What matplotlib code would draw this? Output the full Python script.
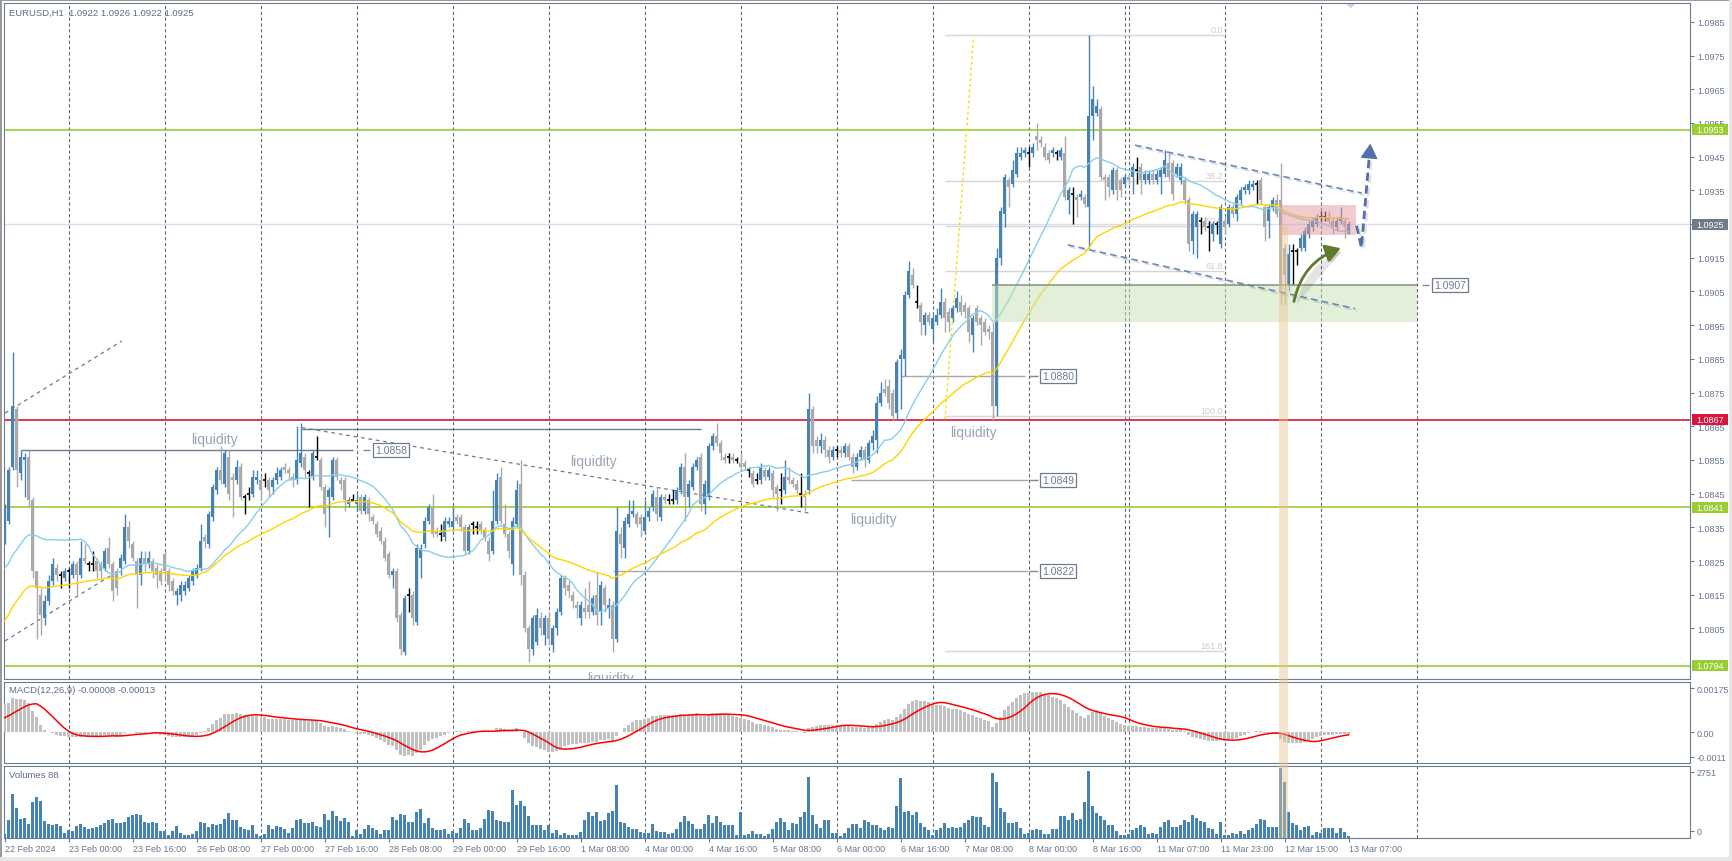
import numpy as np
import matplotlib
matplotlib.use("Agg")
import matplotlib.pyplot as plt
from matplotlib.patches import Rectangle, FancyArrowPatch, Polygon
import matplotlib.patheffects as pe

plt.rcParams['font.family'] = ['Liberation Sans', 'DejaVu Sans']

W, H = 1733, 862

# ---------------- data: EURUSD H1, prices in pips above 1.0800 ----------------
BASE_PRICE = 1.0800
PIP = 0.0001

open_pips = [
    32, 37, 53, 70, 51, 55, 56, 43, 22, 15,
    8, 13, 19, 23, 21, 20, 22, 21, 24, 21,
    26, 24, 24, 25, 24, 23, 29, 24, 22, 23,
    25, 35, 30, 25, 21, 26, 24, 25, 23, 22,
    27, 22, 19, 15, 15, 16, 17, 19, 21, 23,
    32, 30, 38, 46, 52, 48, 56, 50, 49, 53,
    44, 45, 45, 49, 49, 49, 49, 47, 49, 50,
    53, 52, 50, 49, 54, 56, 51, 50, 56, 55,
    47, 44, 44, 55, 49, 49, 42, 43, 42, 44,
    40, 43, 38, 36, 34, 31, 27, 21, 22, 9,
    -2, 15, 15, 7, 26, 30, 37, 41, 34, 33,
    32, 36, 35, 38, 38, 35, 28, 36, 35, 36,
    34, 31, 28, 37, 50, 36, 33, 24, 36, 48,
    21, 5, -1, 1, 8, 3, 8, 0, 5, 10,
    20, 18, 15, 12, 8, 11, 12, 10, 15, 10,
    17, 11, 12, 2, 33, 29, 36, 39, 39, 38,
    34, 38, 41, 44, 38, 44, 43, 43, 43, 46,
    53, 44, 47, 53, 56, 42, 44, 59, 62, 60,
    56, 56, 56, 55, 54, 54, 52, 51, 49, 49,
    52, 50, 51, 47, 46, 46, 50, 49, 48, 45,
    45, 46, 70, 61, 59, 61, 58, 56, 58, 58,
    57, 59, 56, 53, 56, 58, 55, 60, 61, 72,
    76, 77, 75, 69, 85, 85, 104, 110, 102, 101,
    95, 98, 94, 96, 98, 102, 99, 97, 100, 102,
    101, 100, 92, 100, 97, 96, 94, 93, 71, 115,
    128, 138, 137, 140, 145, 146, 146, 146, 151, 150,
    148, 146, 146, 146, 145, 146, 132, 134, 133, 133,
    133, 130, 157, 158, 159, 139, 139, 135, 141, 138,
    137, 139, 139, 141, 142, 138, 138, 140, 138, 139,
    140, 143, 143, 140, 138, 138, 132, 120, 124, 126,
    126, 124, 122, 125, 119, 126, 125, 130, 128, 132,
    135, 135, 136, 137, 138, 130, 126, 130, 132, 132,
    118, 107, 117, 117, 118, 118, 122, 124, 125, 127,
    127, 127, 126, 124, 126, 126, 122,
]

high_pips = [
    42, 53, 87, 71, 58, 57, 58, 44, 22, 17,
    15, 21, 26, 24, 22, 23, 23, 25, 25, 31,
    30, 25, 28, 26, 25, 29, 32, 25, 23, 27,
    39, 37, 31, 26, 28, 28, 28, 26, 24, 23,
    28, 23, 20, 17, 19, 19, 21, 23, 24, 36,
    33, 40, 48, 53, 59, 58, 58, 51, 55, 54,
    45, 47, 52, 52, 50, 51, 50, 50, 53, 53,
    54, 53, 51, 65, 66, 57, 52, 58, 62, 56,
    48, 47, 56, 56, 50, 50, 44, 45, 45, 45,
    45, 44, 39, 37, 35, 32, 28, 23, 23, 10,
    15, 17, 16, 30, 30, 38, 42, 45, 35, 36,
    38, 38, 41, 39, 39, 36, 36, 37, 37, 37,
    35, 32, 46, 51, 53, 42, 34, 38, 49, 55,
    22, 6, 9, 11, 10, 9, 10, 6, 11, 21,
    21, 19, 16, 13, 13, 17, 19, 15, 22, 19,
    18, 14, 13, 41, 35, 38, 43, 43, 40, 39,
    43, 41, 46, 47, 45, 45, 45, 46, 47, 54,
    57, 49, 54, 56, 57, 49, 60, 63, 66, 61,
    57, 57, 57, 56, 57, 55, 53, 52, 51, 54,
    53, 53, 52, 48, 51, 55, 53, 50, 49, 51,
    46, 75, 71, 62, 63, 62, 59, 59, 59, 59,
    60, 60, 57, 57, 59, 59, 61, 64, 74, 78,
    79, 79, 76, 85, 88, 105, 114, 112, 107, 102,
    99, 99, 98, 100, 106, 103, 100, 101, 105, 104,
    102, 101, 98, 101, 98, 97, 95, 96, 118, 130,
    140, 139, 144, 148, 148, 148, 148, 149, 155, 151,
    149, 147, 148, 147, 148, 151, 136, 136, 134, 135,
    134, 181, 166, 162, 160, 140, 140, 142, 142, 139,
    140, 140, 143, 145, 143, 141, 141, 141, 141, 142,
    147, 146, 144, 143, 143, 139, 133, 129, 129, 127,
    127, 126, 126, 126, 131, 127, 131, 131, 134, 136,
    137, 138, 138, 138, 139, 131, 131, 133, 134, 143,
    119, 119, 119, 118, 122, 124, 126, 127, 128, 129,
    129, 129, 127, 127, 130, 127, 126,
]

low_pips = [
    30, 36, 52, 47, 49, 44, 41, 20, 2, 3,
    6, 12, 18, 19, 17, 19, 17, 20, 15, 20,
    24, 22, 22, 20, 20, 22, 23, 13, 15, 21,
    24, 29, 25, 11, 18, 22, 23, 20, 17, 18,
    19, 16, 15, 12, 13, 15, 16, 18, 20, 22,
    29, 29, 37, 45, 48, 47, 43, 38, 48, 43,
    39, 43, 44, 48, 43, 47, 44, 45, 48, 49,
    51, 49, 47, 48, 53, 50, 41, 49, 55, 46,
    35, 32, 43, 49, 46, 40, 41, 43, 40, 39,
    39, 37, 36, 32, 30, 25, 20, 17, 7, -3,
    -3, 10, 6, 6, 20, 29, 36, 32, 32, 31,
    31, 35, 34, 36, 34, 27, 27, 33, 33, 33,
    31, 25, 27, 36, 36, 32, 26, 21, 35, 18,
    4, -5, -3, 0, 3, 0, 0, -2, 3, 9,
    15, 14, 11, 8, 6, 8, 8, 9, 6, 6,
    10, 8, -2, 1, 26, 26, 35, 38, 35, 32,
    33, 37, 40, 37, 37, 42, 42, 42, 42, 45,
    37, 41, 46, 52, 40, 39, 43, 58, 59, 55,
    54, 54, 54, 54, 52, 52, 50, 47, 48, 48,
    49, 49, 44, 40, 42, 45, 48, 47, 45, 41,
    40, 45, 57, 57, 57, 56, 54, 55, 56, 56,
    56, 55, 51, 52, 55, 53, 54, 58, 57, 71,
    74, 70, 67, 67, 70, 80, 103, 106, 100, 92,
    92, 95, 90, 95, 97, 93, 93, 96, 99, 98,
    97, 90, 87, 95, 89, 92, 91, 67, 68, 113,
    124, 130, 136, 139, 144, 145, 142, 145, 147, 148,
    144, 143, 145, 144, 144, 132, 128, 125, 127, 132,
    130, 118, 150, 157, 138, 132, 133, 134, 132, 133,
    136, 137, 134, 137, 134, 137, 137, 137, 137, 134,
    139, 138, 132, 139, 137, 131, 117, 116, 115, 122,
    123, 117, 120, 122, 118, 122, 124, 127, 126, 131,
    134, 134, 135, 131, 131, 120, 121, 129, 127, 101,
    101, 105, 107, 113, 117, 117, 121, 123, 124, 126,
    126, 125, 122, 123, 125, 121, 122,
]

close_pips = [
    39, 52, 71, 52, 56, 56, 43, 22, 17, 9,
    13, 19, 24, 21, 21, 22, 22, 24, 21, 26,
    25, 24, 24, 22, 22, 28, 24, 16, 17, 26,
    35, 31, 26, 21, 26, 24, 26, 22, 21, 19,
    22, 18, 16, 16, 18, 18, 20, 22, 23, 31,
    31, 39, 47, 52, 49, 57, 45, 49, 53, 44,
    44, 45, 50, 50, 46, 49, 46, 49, 51, 52,
    52, 51, 49, 55, 57, 52, 51, 57, 56, 47,
    39, 46, 55, 50, 48, 43, 43, 43, 43, 40,
    44, 39, 37, 33, 31, 26, 21, 22, 8, -1,
    14, 15, 8, 29, 29, 37, 41, 33, 33, 33,
    37, 37, 37, 37, 35, 28, 35, 36, 35, 34,
    32, 27, 37, 49, 37, 33, 28, 37, 46, 21,
    5, -1, 8, 9, 5, 8, 2, 5, 10, 20,
    17, 16, 13, 11, 12, 10, 10, 14, 9, 18,
    12, 12, 2, 34, 30, 37, 39, 40, 36, 36,
    38, 40, 45, 39, 44, 43, 43, 43, 46, 53,
    44, 48, 53, 55, 42, 48, 59, 62, 60, 57,
    55, 56, 55, 55, 53, 53, 52, 48, 49, 53,
    50, 52, 46, 45, 46, 50, 49, 48, 46, 45,
    44, 70, 59, 59, 61, 58, 56, 58, 58, 57,
    59, 56, 53, 56, 58, 55, 60, 62, 72, 75,
    75, 72, 68, 84, 86, 104, 111, 107, 102, 96,
    98, 96, 97, 98, 102, 97, 96, 100, 103, 99,
    99, 93, 97, 96, 95, 93, 93, 71, 115, 129,
    139, 136, 141, 146, 146, 147, 146, 148, 150, 149,
    145, 144, 147, 146, 147, 133, 135, 134, 132, 134,
    131, 157, 162, 160, 139, 138, 136, 141, 135, 135,
    139, 138, 142, 141, 138, 140, 140, 138, 140, 141,
    144, 139, 134, 142, 142, 132, 119, 128, 128, 126,
    124, 124, 125, 125, 130, 124, 130, 128, 133, 135,
    136, 137, 137, 137, 132, 124, 130, 132, 128, 105,
    110, 116, 117, 117, 121, 123, 125, 126, 127, 127,
    127, 126, 124, 126, 127, 124, 125,
]

volumes = [
    170, 705, 1742, 1197, 745, 798, 545, 1397, 1596, 1463,
    665, 545, 505, 545, 466, 200, 306, 266, 466, 532,
    439, 372, 386, 439, 505, 599, 705, 745, 599, 599,
    625, 838, 891, 931, 904, 612, 572, 612, 572, 266,
    266, 133, 266, 466, 200, 133, 133, 173, 266, 625,
    572, 439, 532, 505, 532, 745, 971, 705, 705, 439,
    346, 306, 505, 173, 80, 173, 505, 372, 466, 439,
    346, 200, 399, 705, 745, 572, 572, 638, 466, 439,
    944, 705, 1077, 878, 678, 771, 625, 80, 306, 173,
    346, 505, 412, 306, 173, 306, 306, 838, 705, 944,
    904, 638, 625, 1024, 1144, 572, 771, 412, 333, 306,
    372, 146, 266, 200, 412, 745, 572, 306, 306, 412,
    745, 1104, 1064, 705, 665, 638, 638, 1902, 1303, 1436,
    1264, 878, 505, 505, 505, 306, 505, 200, 306, 133,
    200, 133, 106, 106, 239, 705, 1011, 864, 1037, 665,
    716, 986, 1080, 2100, 648, 608, 446, 351, 351, 243,
    216, 216, 554, 270, 243, 243, 176, 216, 351, 635,
    878, 675, 540, 338, 338, 540, 918, 581, 851, 621,
    513, 500, 513, 108, 1040, 122, 176, 284, 149, 149,
    68, 176, 351, 648, 783, 648, 311, 581, 540, 824,
    1026, 2400, 918, 554, 392, 689, 716, 203, 203, 68,
    203, 392, 540, 540, 378, 689, 621, 500, 500, 405,
    311, 419, 378, 1256, 2350, 1026, 1053, 918, 1026, 581,
    446, 300, 135, 311, 392, 608, 378, 446, 378, 446,
    581, 716, 878, 824, 824, 513, 446, 2550, 2200, 1188,
    1026, 608, 608, 648, 378, 149, 203, 311, 338, 311,
    176, 176, 351, 351, 878, 851, 689, 986, 716, 756,
    1418, 2650, 1256, 986, 878, 689, 513, 513, 284, 135,
    135, 150, 311, 405, 513, 446, 149, 203, 149, 419,
    621, 689, 446, 446, 513, 689, 621, 918, 783, 675,
    648, 378, 338, 149, 648, 135, 135, 203, 176, 270,
    176, 311, 378, 554, 756, 689, 446, 446, 446, 2751,
    2200, 1013, 608, 513, 311, 446, 486, 108, 243, 203,
    405, 400, 405, 203, 405, 230, 88,
]

time_labels = ["22 Feb 2024", "23 Feb 00:00", "23 Feb 16:00", "26 Feb 08:00",
               "27 Feb 00:00", "27 Feb 16:00", "28 Feb 08:00", "29 Feb 00:00",
               "29 Feb 16:00", "1 Mar 08:00", "4 Mar 00:00", "4 Mar 16:00",
               "5 Mar 08:00", "6 Mar 00:00", "6 Mar 16:00", "7 Mar 08:00",
               "8 Mar 00:00", "8 Mar 16:00", "11 Mar 07:00", "11 Mar 23:00",
               "12 Mar 15:00", "13 Mar 07:00"]
LABEL_EVERY = 16
day_separators = [16, 40, 64, 88, 112, 136, 160, 184, 208, 232, 256, 280, 281, 305, 329, 353]
price_ticks = [round(1.0805 + 0.001 * k, 4) for k in range(19)]
green_levels = [1.0953, 1.0841, 1.0794]
red_level = 1.0867
bid_price = 1.0925
title_text = "EURUSD,H1  1.0922 1.0926 1.0922 1.0925"
macd_text = "MACD(12,26,9) -0.00008 -0.00013"
vol_text = "Volumes 88"

# indicator settings and the levels before the first visible bar
BLUE_MA_PERIOD, BLUE_MA_PRIOR = 20, 1.0822      # simple MA
YELLOW_MA_PERIOD, YELLOW_MA_START = 50, 1.0806  # exponential MA
MACD_FAST, MACD_SLOW, MACD_SIGNAL = 12, 26, 9
MACD_FAST_START, MACD_SLOW_START, MACD_PRIOR = 1.0836, 1.0824, 0.0005

# annotations (bar index, price)
FIB_HIGH, FIB_LOW = 1.0981, 1.0868
fib_levels = [0.0, 38.2, 50.0, 61.8, 100.0, 161.8]
FIB_X0, FIB_X1 = 235.1, 304.9
zone_x = (246.8, 353.0)
zone_p = (1.08958, 1.0907)
pink_x = (318.9, 337.85)
pink_p = (1.09217, 1.09306)
channel_upper = [(282.6, 1.09484), (339.3, 1.09342)]
channel_lower = [(265.8, 1.09188), (337.6, 1.08999)]
trend_dashed = [[(0.1, 1.08689), (29.3, 1.08903)],
                [(0.1, 1.08013), (26.4, 1.08206)],
                [(74.3, 1.08646), (201.3, 1.08392)]]
yellow_dotted = [(235.1, 1.08671), (242.2, 1.09798)]
liquidity_top = (1.08643, 74.3, 174.1)
liquidity_texts = [(52.4, 1.08612), (147.3, 1.08546), (217.3, 1.08376),
                   (242.3, 1.08632), (151.4, 1.07902)]
# (price, line start, line end, dash start, dash end, text x, line colour)
level_labels = [(1.0858, 4.0, 87.0, 89.5, 91.35, 92.55, '#6D7B8D'),
                (1.0880, 224.0, 255.1, 256.1, 258.35, 259.4, '#A8A8A8'),
                (1.0849, 211.6, 255.85, 256.1, 258.35, 259.4, '#A8A8A8'),
                (1.0822, 152.1, 255.85, 256.1, 258.35, 259.4, '#A8A8A8'),
                (1.0907, None, None, 354.35, 356.1, 357.45, '#8C9A84')]
green_arrow = [(322.2, 1.09012), (334.7, 1.09181)]
blue_arrow = [(338.0, 1.09245), (339.2, 1.09180), (341.5, 1.09497)]

# ---------------- prepare ----------------
op = np.array(open_pips); hp = np.array(high_pips)
lp = np.array(low_pips); cp = np.array(close_pips)
assert len(op) == len(hp) == len(lp) == len(cp) == len(volumes) == 337
hp = np.maximum(hp, np.maximum(op, cp))
lp = np.minimum(lp, np.minimum(op, cp))
o = BASE_PRICE + op * PIP
h = BASE_PRICE + hp * PIP
l = BASE_PRICE + lp * PIP
c = BASE_PRICE + cp * PIP
n = len(o)
idx = np.arange(n)


def ema(vals, period, start):
    a = 2.0 / (period + 1)
    out = np.empty(len(vals))
    prev = start
    for k, v in enumerate(vals):
        prev += a * (v - prev)
        out[k] = prev
    return out


def sma(vals, period, prior):
    padded = np.concatenate([np.full(period - 1, prior), vals])
    return np.convolve(padded, np.ones(period) / period, mode='valid')


blue_ma = sma(c, BLUE_MA_PERIOD, BLUE_MA_PRIOR)
yellow_ma = ema(c, YELLOW_MA_PERIOD, YELLOW_MA_START)
macd_main = ema(c, MACD_FAST, MACD_FAST_START) - ema(c, MACD_SLOW, MACD_SLOW_START)
macd_signal = sma(macd_main, MACD_SIGNAL, MACD_PRIOR)

BULL = '#4682B4'
BEAR = '#A9A9A9'
FRAME = '#6D7B8D'
TXT = '#66768E'
GRID = '#5F6B7A'

fig = plt.figure(figsize=(W / 100, H / 100), dpi=100)
fig.patch.set_facecolor('white')


def frect(x0, y0, x1, y1):
    return [x0 / W, 1 - y1 / H, (x1 - x0) / W, (y1 - y0) / H]


ax = fig.add_axes(frect(4, 4, 1690, 680))
axm = fig.add_axes(frect(4, 683, 1690, 764))
axv = fig.add_axes(frect(4, 767, 1690, 839))
XMIN, XMAX = (4 - 4.6) / 4, (1690 - 4.6) / 4
YTOP, YBOT = 1.09906, 1.07900


def ypx(p):
    return 4 + (YTOP - p) / (YTOP - YBOT) * 676


for a in (ax, axm, axv):
    a.set_xlim(XMIN, XMAX)
    a.set_facecolor('white')
    for s in a.spines.values():
        s.set_color(FRAME)
        s.set_linewidth(0.8)
    a.yaxis.tick_right()
    a.tick_params(axis='y', length=3, width=0.8, color=FRAME, labelsize=6.5,
                  labelcolor=TXT, pad=2)
    a.tick_params(axis='x', bottom=False, labelbottom=False)
    for b in day_separators:
        a.axvline(b, color=GRID, lw=0.8, ls=(0, (3, 2.2)), zorder=1)

# ---------------- main panel ----------------
ax.set_ylim(YBOT, YTOP)
ax.set_yticks(price_ticks)
ax.set_yticklabels([f"{p:.4f}" for p in price_ticks])

ax.axhline(bid_price, color='#DCDCF0', lw=1.0, zorder=1)
for gl in green_levels:
    ax.axhline(gl, color='#9ACD32', lw=1.2, zorder=2)
ax.axhline(red_level, color='#DC143C', lw=1.2, zorder=2)

# fibonacci
for lev in fib_levels:
    p = FIB_HIGH - (FIB_HIGH - FIB_LOW) * lev / 100.0
    ax.hlines(p, FIB_X0, FIB_X1, color='#D6D6D6', lw=1.0, zorder=2)
    ax.text(FIB_X1 - 0.3, p + 0.00003, f"{lev:.1f}", color='#CCCCCC', fontsize=6.5,
            ha='right', va='bottom', zorder=2)

# level lines with labels
for p, x0, x1, d0, d1, tx, col in level_labels:
    if x0 is not None:
        ax.hlines(p, x0, x1, color=col, lw=1.0, zorder=2)
    ax.hlines(p, d0, d1, color='#8A8A8A', lw=1.0, zorder=2)
    ax.text(tx, p, f"{p:.4f}", fontsize=7.5, color=FRAME, ha='left', va='center',
            bbox=dict(boxstyle='square,pad=0.2', fc='white', ec=FRAME, lw=0.9), zorder=8)

lp_, lx0, lx1 = liquidity_top
ax.hlines(lp_, lx0, lx1, color=FRAME, lw=1.0, zorder=2)
for seg in trend_dashed:
    (xa, ya), (xb, yb) = seg
    ax.plot([xa, xb], [ya, yb], color=FRAME, lw=0.9, ls=(0, (3, 3)), zorder=2)
(xa, ya), (xb, yb) = yellow_dotted
ax.plot([xa, xb], [ya, yb], color='#F2E200', lw=1.0, ls=(0, (2, 2)), zorder=2)

# candles
up = cp > op
dn = cp < op
dj = cp == op
cols = np.where(up, BULL, np.where(dn, BEAR, 'black'))
ax.vlines(idx, l, h, colors=cols, lw=1.0, zorder=4)
nb = ~dj
ax.bar(idx[nb], np.abs(c - o)[nb], bottom=np.minimum(o, c)[nb], width=0.75,
       color=cols[nb], linewidth=0, zorder=5)
ax.hlines(o[dj], idx[dj] - 0.45, idx[dj] + 0.45, colors='black', lw=1.2, zorder=5)

# moving averages
ax.plot(idx, blue_ma, color='#87CEEB', lw=1.0, zorder=6)
ax.plot(idx, yellow_ma, color='#FFD400', lw=1.0, zorder=6)

# zones
ax.add_patch(Rectangle((zone_x[0], zone_p[0]), zone_x[1] - zone_x[0], zone_p[1] - zone_p[0],
                       fc='#C6E0B4', alpha=0.5, ec='none', zorder=7))
ax.hlines(zone_p[1], zone_x[0], zone_x[1], color='#8C9A84', lw=1.2, zorder=7)
ax.add_patch(Rectangle((pink_x[0], pink_p[0]), pink_x[1] - pink_x[0], pink_p[1] - pink_p[0],
                       fc='#E39A9F', alpha=0.5, ec='none', zorder=7))

# channel
shadow = [pe.SimpleLineShadow(offset=(1.5, -1.5), alpha=0.12), pe.Normal()]
for seg in (channel_upper, channel_lower):
    (xa, ya), (xb, yb) = seg
    ax.plot([xa, xb], [ya, yb], color='#5B7CB3', lw=1.2, alpha=0.9, ls=(0, (4, 2.5)),
            zorder=8, path_effects=shadow)

# liquidity labels
for tx, ty in liquidity_texts:
    ax.text(tx, ty, "liquidity", color='#99A3B3', fontsize=10, ha='center', va='center',
            zorder=8, clip_on=True)

# green curved arrow
ga = FancyArrowPatch(green_arrow[0], green_arrow[1], connectionstyle='arc3,rad=-0.3',
                     arrowstyle='-|>,head_length=0.5,head_width=0.3', mutation_scale=18,
                     lw=2.0, color='#5E7C2F', zorder=9,
                     path_effects=[pe.SimplePatchShadow(offset=(2, -2), alpha=0.15), pe.Normal()])
ax.add_patch(ga)

# blue dashed arrow
(x1_, y1_), (x2_, y2_), (x3_, y3_) = blue_arrow
ax.plot([x1_, x2_, x2_ + (x3_ - x2_) * 0.88], [y1_, y2_, y2_ + (y3_ - y2_) * 0.88],
        color='#4F72AD', lw=2.0, ls=(0, (3, 1.6)), zorder=9, path_effects=shadow)
ax.annotate('', xy=(x3_, y3_), xytext=(x2_ + (x3_ - x2_) * 0.85, y2_ + (y3_ - y2_) * 0.85),
            arrowprops=dict(arrowstyle='-|>,head_length=0.6,head_width=0.35', color='#4F72AD',
                            lw=1.2, mutation_scale=15), zorder=9)

# ---------------- MACD panel ----------------
axm.set_ylim(-0.00123, 0.00199)
axm.bar(idx, macd_main, width=0.55, color='#C0C0C0', linewidth=0, zorder=3)
axm.plot(idx, macd_signal, color='#FF0000', lw=1.1, zorder=4)
axm.set_yticks([0.00175, 0.0, -0.00099])
axm.set_yticklabels(['0.00175', '0.00', '-0.0011'])

# ---------------- Volume panel ----------------
VTOP = 2751 * 72 / 70
axv.set_ylim(0, VTOP)
axv.bar(idx, volumes, width=0.75, color=BULL, linewidth=0, zorder=3)
axv.set_yticks([(839 - 773) / 72 * VTOP, (839 - 832) / 72 * VTOP])
axv.set_yticklabels(['2751', '0'])
label_bars = list(range(0, n, LABEL_EVERY))
axv.set_xticks(label_bars)
axv.set_xticklabels(time_labels)
axv.tick_params(axis='x', bottom=True, labelbottom=True, length=3, width=0.8, color=FRAME,
                labelsize=6.5, labelcolor=TXT, pad=1.5)
for t in axv.get_xticklabels():
    t.set_ha('left')

# ---------------- figure-level decorations ----------------
fig.text(9 / W, 1 - 13 / H, title_text, fontsize=6.8, color='#5C6C84', va='center', ha='left')
fig.text(9 / W, 1 - 691 / H, macd_text, fontsize=6.8, color='#5C6C84', va='center', ha='left')
fig.text(9 / W, 1 - 776 / H, vol_text, fontsize=6.8, color='#5C6C84', va='center', ha='left')


def price_box(p, fc):
    y = ypx(p)
    fig.add_artist(Rectangle((1692 / W, 1 - (y + 5.5) / H), 36 / W, 11 / H,
                             transform=fig.transFigure, fc=fc, ec='none', zorder=20))
    fig.text(1710 / W, 1 - y / H, f"{p:.4f}", color='white', fontsize=6.5,
             ha='center', va='center', zorder=21)


for gl in green_levels:
    price_box(gl, '#9ACD32')
price_box(red_level, '#DC143C')
price_box(bid_price, '#6E7B8B')

# orange vertical band over all panels
fig.add_artist(Rectangle((1279 / W, 1 - 839 / H), 9 / W, (839 - 226) / H,
                         transform=fig.transFigure, fc='#EBC58F', alpha=0.45, ec='none', zorder=10))
# top-of-chart marker
fig.add_artist(Polygon([(1346.7 / W, 1 - 5 / H), (1355 / W, 1 - 5 / H), (1350.8 / W, 1 - 9.5 / H)],
                       closed=True, transform=fig.transFigure, fc='#CCCCEE', ec='none', zorder=20))
# window frame strips
fig.add_artist(Rectangle((0, 1 - 2 / H), 1, 2 / H, transform=fig.transFigure,
                         fc='#9A9A9A', ec='none', zorder=30))
fig.add_artist(Rectangle((0, 0), 2 / W, 1, transform=fig.transFigure,
                         fc='#9A9A9A', ec='none', zorder=30))
fig.add_artist(Rectangle((1729 / W, 0), 4 / W, 1, transform=fig.transFigure,
                         fc='#E6E6E6', ec='none', zorder=30))
fig.add_artist(Rectangle((0, 0), 1, 4 / H, transform=fig.transFigure,
                         fc='#E6E6E6', ec='none', zorder=30))

fig.savefig('out.png', dpi=100, facecolor='white')
